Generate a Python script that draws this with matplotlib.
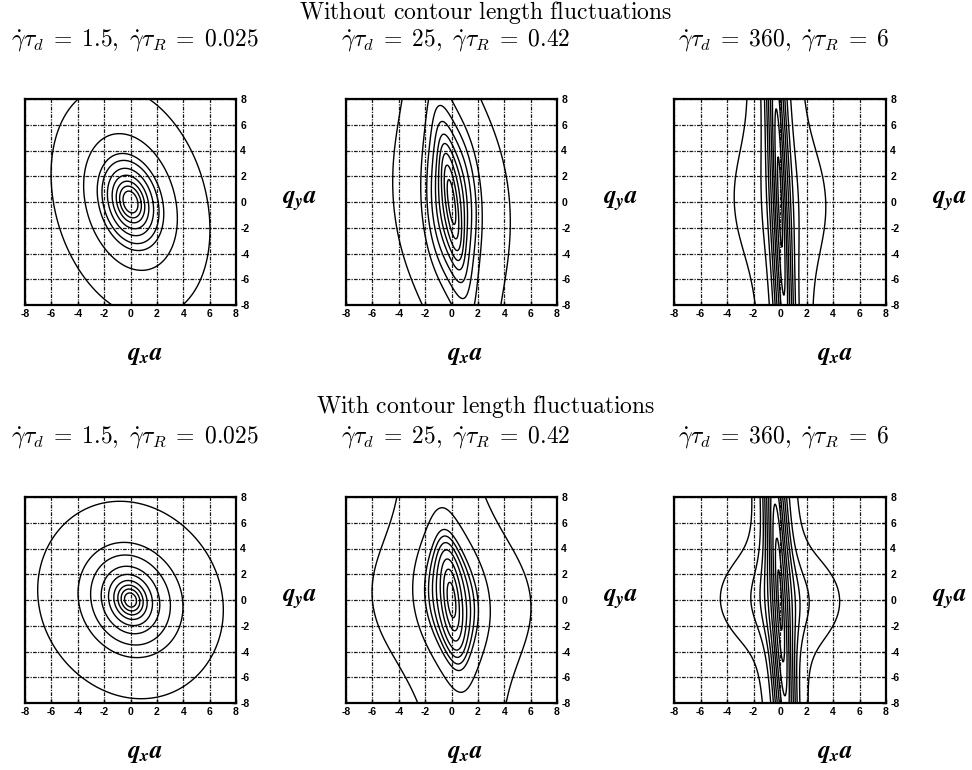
import numpy as np
import matplotlib
matplotlib.use('Agg')
import matplotlib.pyplot as plt

plt.rcParams['mathtext.fontset'] = 'cm'
plt.rcParams['axes.unicode_minus'] = False

# structure factor pieces for each panel: (kind, weight, width along qx, width along qy, shear)
# kind L = lorentzian, G = gaussian
comp_no_15 = [("L", 1.0, 0.65, 1.0, 0.16)]
comp_no_25 = [("L", 1.0, 0.22, 1.6, 0.12), ("G", 0.15, 1.0, 3.0, 0.03), ("G", 0.02, 3.2, 6.0, 0.06)]
comp_no_360 = [("L", 1.0, 0.17, 5.0, 0.04), ("G", 0.0085, 3.0, 4.0, 0.03)]
comp_cl_15 = [("L", 1.0, 0.7, 0.85, 0.12), ("G", 0.05, 3.5, 3.5, 0.08)]
comp_cl_25 = [("L", 1.0, 0.3, 1.4, 0.1), ("G", 0.1, 1.6, 3.0, 0.1), ("G", 0.02, 3.5, 3.2, 0.08)]
comp_cl_360 = [("L", 1.0, 0.2, 4.0, 0.05), ("G", 0.025, 3.5, 2.8, 0.03)]

# where each contour line crosses the +qx axis
cross_no_15 = [0.55, 0.8, 1.05, 1.35, 1.7, 2.1, 2.45, 3.45, 5.85]
cross_no_25 = [0.25, 0.45, 0.68, 0.93, 1.18, 1.5, 1.85, 2.3, 4.4]
cross_no_360 = [0.12, 0.25, 0.38, 0.5, 0.65, 0.8, 1.0, 1.4, 3.45]
cross_cl_15 = [0.45, 0.7, 0.95, 1.25, 1.65, 2.2, 3.0, 3.95, 7.0]
cross_cl_25 = [0.3, 0.55, 0.8, 1.1, 1.4, 1.7, 2.0, 2.9, 6.0]
cross_cl_360 = [0.12, 0.25, 0.4, 0.55, 0.7, 0.9, 1.15, 1.5, 2.2, 4.5]

row_titles = ["Without contour length fluctuations", "With contour length fluctuations"]
rates_d = ["1.5", "25", "360"]
rates_R = ["0.025", "0.42", "6"]
ticks = [-8, -6, -4, -2, 0, 2, 4, 6, 8]

panels = [[(comp_no_15, cross_no_15), (comp_no_25, cross_no_25), (comp_no_360, cross_no_360)],
          [(comp_cl_15, cross_cl_15), (comp_cl_25, cross_cl_25), (comp_cl_360, cross_cl_360)]]


def field(qx, qy, comps):
    f = np.zeros_like(qx, dtype=float)
    for kind, w, wx, wy, s in comps:
        Q = ((qx + s * qy) / wx) ** 2 + (qy / wy) ** 2
        if kind == "L":
            f = f + w / (1 + Q)
        else:
            f = f + w * np.exp(-Q / 2)
    return f


W, H = 972, 770
fig = plt.figure(figsize=(W / 100, H / 100), dpi=100)

def px(x, y):
    return x / W, 1 - y / H

col_left = [25, 346, 674]
col_w = [211, 211, 212]
row_top = [99, 497]
ax_h = 206
xlab_shift = [15, 14, 55]

q = np.linspace(-8, 8, 481)
QX, QY = np.meshgrid(q, q)

for r in range(2):
    fig.text(*px(486, 12 + 395 * r), r"$\mathrm{" + row_titles[r].replace(" ", r"\ ") + "}$",
             ha='center', va='center', fontsize=17)
    for c in range(3):
        l, t = col_left[c], row_top[r]
        ax = fig.add_axes([l / W, 1 - (t + ax_h) / H, col_w[c] / W, ax_h / H])
        comps, cross = panels[r][c]
        F = field(QX, QY, comps)
        cr = np.array(cross)
        levels = np.sort(field(cr, np.zeros_like(cr), comps))
        ax.contour(QX, QY, F, levels=levels, colors='k', linewidths=1.0)

        ax.set_xlim(-8, 8)
        ax.set_ylim(-8, 8)
        ax.set_xticks(ticks)
        ax.set_yticks(ticks)
        ax.set_xticklabels([str(v) for v in ticks], fontweight='bold', family='Liberation Sans')
        ax.set_yticklabels([str(v) for v in ticks], fontweight='bold', family='Liberation Sans')
        ax.yaxis.tick_right()
        ax.tick_params(direction='in', length=3, width=1, labelsize=7.5, pad=3)
        ax.grid(True, color='0.1', linestyle=(0, (3, 1, 1, 1)), linewidth=0.9)
        for sp in ax.spines.values():
            sp.set_linewidth(1.6)

        xc = l + col_w[c] / 2
        fig.text(*px(xc + 4, 40 + 397 * r),
                 r"$\dot{\gamma}\tau_d\;=\;" + rates_d[c] + r",\ \dot{\gamma}\tau_R\;=\;" + rates_R[c] + "$",
                 ha='center', va='center', fontsize=17)
        fig.text(*px(l + col_w[c] + 64, t + ax_h / 2), r"$\mathbfit{q_y a}$", math_fontfamily='stix',
                 ha='center', va='center', fontsize=18)
        fig.text(*px(xc + xlab_shift[c], t + 256), r"$\mathbfit{q_x a}$", math_fontfamily='stix',
                 ha='center', va='center', fontsize=18)

fig.savefig("out.png", dpi=100)
